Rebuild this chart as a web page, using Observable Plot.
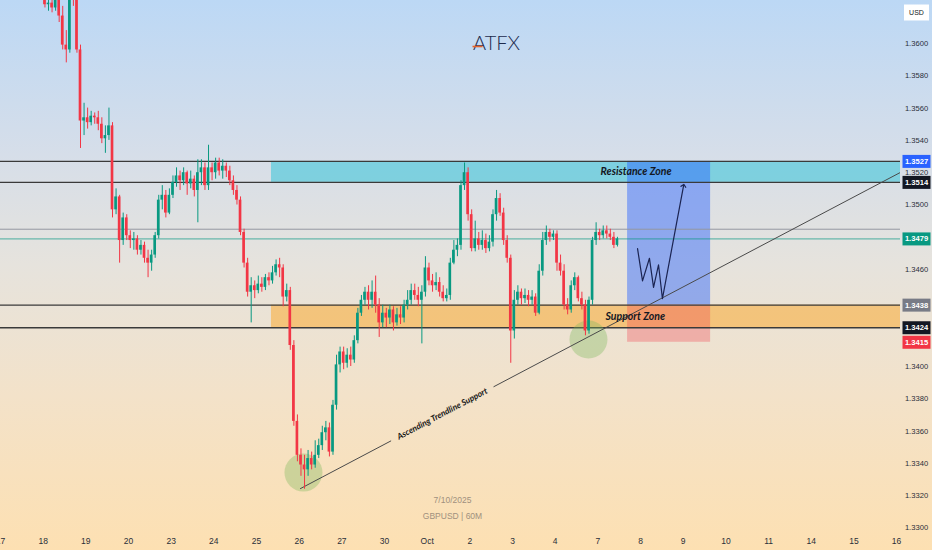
<!DOCTYPE html>
<html>
<head>
<meta charset="utf-8">
<script src="https://cdn.jsdelivr.net/npm/d3@7"></script>
<script src="https://cdn.jsdelivr.net/npm/@observablehq/plot@0.6"></script>
<style>
  html, body { margin: 0; padding: 0; background: #fde0b2; }
  #chart svg { display: block; }
</style>
</head>
<body>
<div id="chart"></div>
<script>
// GBPUSD intraday. x is measured in session hours from the "17" date label;
// each candle covers two hours. Open of every bar is the previous close.
const barHours = 2;
const firstBarHour = 24;
const firstOpen = 1.3628;

const close = [
  1.3624,1.3625,1.3622,1.3630,1.3617,1.3599,1.3596,1.3630,1.3628,1.3596,
  1.3552,1.3554,1.3551,1.3555,1.3554,1.3550,1.3541,1.3543,1.3549,1.3497,
  1.3505,1.3478,1.3492,1.3481,1.3478,1.3479,1.3472,1.3475,1.3467,1.3464,
  1.3469,1.3481,1.3503,1.3506,1.3495,1.3506,1.3514,1.3518,1.3515,1.3520,
  1.3513,1.3516,1.3509,1.3520,1.3523,1.3512,1.3523,1.3520,1.3526,1.3521,
  1.3524,1.3521,1.3515,1.3509,1.3503,1.3483,1.3464,1.3446,1.3450,1.3447,
  1.3451,1.3449,1.3455,1.3453,1.3458,1.3463,1.3461,1.3443,1.3447,1.3413,
  1.3366,1.3345,1.3339,1.3336,1.3343,1.3339,1.3345,1.3351,1.3359,1.3362,
  1.3347,1.3376,1.3401,1.3409,1.3402,1.3407,1.3404,1.3416,1.3433,1.3441,
  1.3446,1.3441,1.3446,1.3438,1.3427,1.3433,1.3430,1.3435,1.3427,1.3432,
  1.3430,1.3438,1.3441,1.3447,1.3444,1.3441,1.3446,1.3461,1.3453,1.3450,
  1.3452,1.3446,1.3442,1.3444,1.3464,1.3472,1.3475,1.3512,1.3520,1.3494,
  1.3473,1.3479,1.3475,1.3478,1.3473,1.3477,1.3494,1.3504,1.3495,1.3478,
  1.3467,1.3422,1.3441,1.3446,1.3442,1.3444,1.3441,1.3443,1.3433,1.3459,
  1.3478,1.3483,1.3480,1.3482,1.3464,1.3459,1.3438,1.3435,1.3450,1.3455,
  1.3442,1.3438,1.3422,1.3441,1.3478,1.3483,1.3481,1.3484,1.3482,1.3480,
  1.3475,1.3479
];
const high = [
  1.3632,1.3628,1.3627,1.3633,1.3632,1.3623,1.3608,1.3633,1.3634,1.3630,
  1.3599,1.3563,1.3560,1.3558,1.3557,1.3558,1.3554,1.3549,1.3560,1.3551,
  1.3510,1.3506,1.3495,1.3494,1.3484,1.3483,1.3481,1.3478,1.3477,1.3472,
  1.3472,1.3483,1.3506,1.3512,1.3509,1.3510,1.3518,1.3523,1.3521,1.3523,
  1.3521,1.3521,1.3518,1.3528,1.3528,1.3526,1.3537,1.3526,1.3529,1.3529,
  1.3528,1.3526,1.3524,1.3518,1.3512,1.3505,1.3485,1.3467,1.3455,1.3453,
  1.3456,1.3455,1.3457,1.3458,1.3462,1.3466,1.3467,1.3463,1.3451,1.3449,
  1.3416,1.3370,1.3349,1.3345,1.3348,1.3347,1.3354,1.3355,1.3363,1.3366,
  1.3365,1.3379,1.3407,1.3412,1.3412,1.3411,1.3412,1.3419,1.3436,1.3444,
  1.3449,1.3450,1.3453,1.3456,1.3442,1.3438,1.3436,1.3438,1.3437,1.3436,
  1.3437,1.3441,1.3447,1.3451,1.3451,1.3449,1.3450,1.3468,1.3464,1.3457,
  1.3458,1.3455,1.3450,1.3448,1.3467,1.3478,1.3479,1.3515,1.3526,1.3523,
  1.3497,1.3490,1.3483,1.3484,1.3482,1.3481,1.3497,1.3509,1.3507,1.3498,
  1.3481,1.3469,1.3447,1.3450,1.3448,1.3448,1.3447,1.3447,1.3445,1.3463,
  1.3483,1.3487,1.3485,1.3484,1.3484,1.3469,1.3463,1.3442,1.3453,1.3458,
  1.3456,1.3446,1.3441,1.3443,1.3480,1.3489,1.3485,1.3487,1.3487,1.3485,
  1.3483,1.3480
];
const low = [
  1.3622,1.3620,1.3619,1.3620,1.3613,1.3596,1.3588,1.3594,1.3623,1.3594,
  1.3535,1.3543,1.3547,1.3549,1.3550,1.3546,1.3538,1.3532,1.3540,1.3492,
  1.3494,1.3464,1.3475,1.3478,1.3473,1.3472,1.3469,1.3469,1.3464,1.3455,
  1.3459,1.3467,1.3479,1.3497,1.3492,1.3494,1.3504,1.3511,1.3509,1.3512,
  1.3506,1.3510,1.3505,1.3489,1.3512,1.3509,1.3509,1.3515,1.3516,1.3518,
  1.3516,1.3517,1.3512,1.3506,1.3500,1.3481,1.3461,1.3443,1.3427,1.3442,
  1.3445,1.3446,1.3447,1.3450,1.3451,1.3456,1.3455,1.3437,1.3440,1.3410,
  1.3363,1.3341,1.3332,1.3324,1.3332,1.3336,1.3337,1.3343,1.3348,1.3354,
  1.3344,1.3345,1.3373,1.3396,1.3398,1.3399,1.3400,1.3402,1.3414,1.3431,
  1.3438,1.3435,1.3436,1.3433,1.3418,1.3424,1.3424,1.3426,1.3422,1.3425,
  1.3426,1.3427,1.3435,1.3438,1.3441,1.3437,1.3414,1.3443,1.3450,1.3446,
  1.3447,1.3443,1.3440,1.3440,1.3441,1.3463,1.3468,1.3472,1.3509,1.3490,
  1.3471,1.3471,1.3472,1.3472,1.3470,1.3471,1.3474,1.3490,1.3493,1.3475,
  1.3464,1.3402,1.3417,1.3438,1.3438,1.3439,1.3437,1.3438,1.3431,1.3432,
  1.3456,1.3475,1.3477,1.3478,1.3459,1.3456,1.3435,1.3432,1.3433,1.3447,
  1.3440,1.3435,1.3419,1.3420,1.3438,1.3475,1.3478,1.3479,1.3479,1.3478,
  1.3473,1.3474
];

// Time axis labels, one per session (24 hours apart)
const dayLabels = ["17","18","19","20","23","24","25","26","27","30","Oct",
                   "2","3","4","7","8","9","10","11","14","15","16"];
// Price scale labels not hidden behind a price tag
const priceTicks = [1.3300,1.3320,1.3340,1.3360,1.3380,1.3400,1.3460,
                    1.3500,1.3520,1.3540,1.3560,1.3580,1.3600];

// Zones and levels
const resistance = [1.3514, 1.3527];
const support = [1.3424, 1.3438];
const zoneStartHour = 152.4;
const markerLevel = 1.3485;

// Long-position plan: entry, target, stop
const entry = 1.3438, target = 1.3527, stop = 1.3415;
const planHours = [352.7, 399.4];

// Projected path drawn inside the plan
const pathHour  = [358.3, 361.1, 365.0, 367.3, 370.1, 372.3, 384.2];
const pathPrice = [1.3473, 1.3453, 1.3467, 1.3449, 1.3463, 1.3442, 1.3512];

// Ascending trendline anchors and the stretch kept open for its label
const trendHour  = [168.7, 506.2];
const trendPrice = [1.33244, 1.35202];
const trendGap   = [219.5, 277.5];

// Highlighted touches of the trendline
const touchHour  = [170.4, 330.7];
const touchPrice = [1.33343, 1.34167];

const xMax = 506.2;
const up = "#089981", down = "#f23645";

const bars = close.map((c, i) => ({
  hour: firstBarHour + i * barHours,
  open: i === 0 ? firstOpen : close[i - 1],
  high: high[i], low: low[i], close: c
}));
const lastPrice = close[close.length - 1];

const trendAt = h => trendPrice[0] + (h - trendHour[0]) * (trendPrice[1] - trendPrice[0]) / (trendHour[1] - trendHour[0]);
const trendSegments = [
  {seg: 0, h: trendHour[0], p: trendPrice[0]}, {seg: 0, h: trendGap[0], p: trendAt(trendGap[0])},
  {seg: 1, h: trendGap[1], p: trendAt(trendGap[1])}, {seg: 1, h: trendHour[1], p: trendPrice[1]}
];
const path = pathHour.map((h, i) => ({h, p: pathPrice[i]}));
const touches = touchHour.map((h, i) => ({h, p: touchPrice[i]}));

const tags = [
  {price: target, fill: "#2962ff"},
  {price: resistance[0], fill: "#131722"},
  {price: lastPrice, fill: "#089981"},
  {price: entry, fill: "#787b86"},
  {price: support[0], fill: "#131722"},
  {price: stop, fill: "#f23645"}
];
const tagBox = {draw(ctx) { ctx.rect(-14, -6.5, 28, 13); }};
const usdBox = {draw(ctx) { ctx.rect(-12.5, -8, 25, 16); }};
const logoBar = {draw(ctx) { ctx.rect(-5, -0.8, 10, 1.6); }};

const bold = {fontFamily: "Lato, 'Open Sans', sans-serif", fontWeight: 700, fontStyle: "italic"};

const chart = Plot.plot({
  width: 932, height: 550,
  marginLeft: 0, marginRight: 32, marginTop: 0, marginBottom: 20,
  style: {
    background: "linear-gradient(180deg, #bcd8f5 0%, #d6dee9 28%, #e6e3dd 48%, #f3e2c9 72%, #fde0b2 100%)",
    fontFamily: "'Liberation Sans', Arial, sans-serif",
    overflow: "visible"
  },
  x: {domain: [0, xMax]},
  y: {domain: [1.329845, 1.362663]},
  color: {type: "identity"},
  marks: [
    // zones
    Plot.rect([resistance], {x1: zoneStartHour, x2: xMax, y1: d => d[0], y2: d => d[1], fill: "#00bcd4", fillOpacity: 0.42}),
    Plot.rect([support], {x1: zoneStartHour, x2: xMax, y1: d => d[0], y2: d => d[1], fill: "#ff9800", fillOpacity: 0.42}),
    // long-position plan
    Plot.rect([0], {x1: planHours[0], x2: planHours[1], y1: entry, y2: target, fill: "#2962ff", fillOpacity: 0.45}),
    Plot.rect([0], {x1: planHours[0], x2: planHours[1], y1: stop, y2: entry, fill: "#f23645", fillOpacity: 0.3}),
    // horizontal levels
    Plot.ruleY([markerLevel], {stroke: "#9598a1", strokeWidth: 1}),
    Plot.ruleY([lastPrice], {stroke: up, strokeOpacity: 0.7, strokeWidth: 1}),
    Plot.ruleY([...resistance, ...support], {stroke: "#3a3a3a", strokeWidth: 1.3}),
    // trendline touches
    Plot.dot(touches, {x: "h", y: "p", r: 19, fill: "#7cb65a", fillOpacity: 0.35, stroke: null}),
    // trendline
    Plot.line(trendSegments, {x: "h", y: "p", z: "seg", stroke: "#4a4a4a", strokeWidth: 1, clip: true}),
    Plot.text([0], {x: 248.5, y: trendAt(248.5), text: () => "Ascending Trendline Support", rotate: -27.8,
      fontSize: 8.4, fill: "#151515", ...bold}),
    // candles
    Plot.ruleX(bars, {x: d => d.hour + barHours / 2, y1: "low", y2: "high",
      stroke: d => d.close >= d.open ? up : down, strokeWidth: 1, clip: true}),
    Plot.rect(bars, {x1: "hour", x2: d => d.hour + barHours, y1: "open", y2: "close",
      fill: d => d.close >= d.open ? up : down, insetLeft: 0.45, insetRight: 0.45, clip: true}),
    // projected path
    Plot.line(path, {x: "h", y: "p", stroke: "#1b2452", strokeWidth: 1.2, markerEnd: "arrow"}),
    // zone labels
    Plot.text([0], {x: 337.5, y: (resistance[0] + resistance[1]) / 2, text: () => "Resistance Zone",
      textAnchor: "start", fontSize: 10.5, fill: "#131722", ...bold}),
    Plot.text([0], {x: 340.3, y: (support[0] + support[1]) / 2, text: () => "Support Zone",
      textAnchor: "start", fontSize: 10.5, fill: "#131722", ...bold}),
    // axes
    Plot.axisX({ticks: dayLabels.map((_, i) => i * 24), tickFormat: d => dayLabels[d / 24],
      tickSize: 0, tickPadding: 7, fontSize: 8.5, color: "#2a2e39"}),
    Plot.axisY({ticks: priceTicks, anchor: "right", tickSize: 0, tickPadding: 16, textAnchor: "middle",
      tickFormat: d => d.toFixed(4), fontSize: 7.6, color: "#2a2e39"}),
    // price tags on the scale
    Plot.dot(tags, {y: "price", frameAnchor: "right", dx: 16, symbol: tagBox, fill: "fill", stroke: null}),
    Plot.text(tags, {y: "price", frameAnchor: "right", dx: 16, text: d => d.price.toFixed(4),
      textAnchor: "middle", fill: "white", fontSize: 7.6, fontWeight: 600}),
    Plot.dot([0], {frameAnchor: "top-right", dx: 16, dy: 12, symbol: usdBox, fill: "white", stroke: null}),
    Plot.text(["USD"], {frameAnchor: "top-right", dx: 16, dy: 12, text: d => d, textAnchor: "middle",
      lineAnchor: "middle", fontSize: 7, fill: "#131722"}),
    // branding and watermark
    Plot.text(["ATFX"], {frameAnchor: "top", dx: 46, dy: 43, text: d => d, lineAnchor: "middle", fontSize: 20,
      fontFamily: "Lato, sans-serif", fontWeight: 300, fill: "#1c2a4d"}),
    Plot.dot([0], {frameAnchor: "top", dx: 27, dy: 46, symbol: logoBar, fill: "#e8622a", stroke: null}),
    Plot.text(["7/10/2025"], {frameAnchor: "bottom", dx: 2, dy: -30, text: d => d, lineAnchor: "middle",
      fontSize: 8.5, fill: "#a0907e"}),
    Plot.text(["GBPUSD | 60M"], {frameAnchor: "bottom", dx: 2, dy: -14, text: d => d, lineAnchor: "middle",
      fontSize: 8.5, fill: "#a0907e"})
  ]
});
document.getElementById("chart").appendChild(chart);
</script>
</body>
</html>
